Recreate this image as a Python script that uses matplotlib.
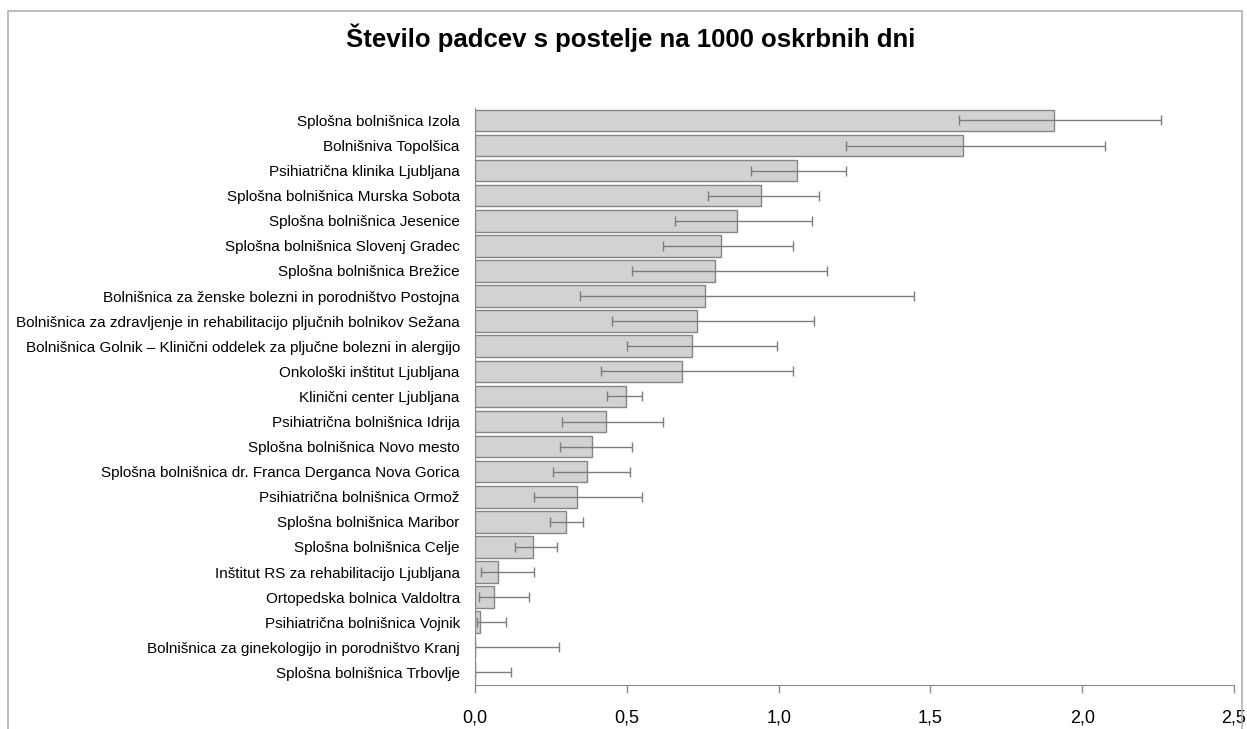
import numpy as np
import matplotlib
matplotlib.use('Agg')
import matplotlib.pyplot as plt
from matplotlib.patches import Rectangle
from matplotlib.ticker import FuncFormatter

# hospitals, top to bottom as in the chart
hospitals = [
    'Splošna bolnišnica Izola',
    'Bolnišniva Topolšica',
    'Psihiatrična klinika Ljubljana',
    'Splošna bolnišnica Murska Sobota',
    'Splošna bolnišnica Jesenice',
    'Splošna bolnišnica Slovenj Gradec',
    'Splošna bolnišnica Brežice',
    'Bolnišnica za ženske bolezni in porodništvo Postojna',
    'Bolnišnica za zdravljenje in rehabilitacijo pljučnih bolnikov Sežana',
    'Bolnišnica Golnik – Klinični oddelek za pljučne bolezni in alergijo',
    'Onkološki inštitut Ljubljana',
    'Klinični center Ljubljana',
    'Psihiatrična bolnišnica Idrija',
    'Splošna bolnišnica Novo mesto',
    'Splošna bolnišnica dr. Franca Derganca Nova Gorica',
    'Psihiatrična bolnišnica Ormož',
    'Splošna bolnišnica Maribor',
    'Splošna bolnišnica Celje',
    'Inštitut RS za rehabilitacijo Ljubljana',
    'Ortopedska bolnica Valdoltra',
    'Psihiatrična bolnišnica Vojnik',
    'Bolnišnica za ginekologijo in porodništvo Kranj',
    'Splošna bolnišnica Trbovlje',
]

# falls per 1000 bed days
rate = [1.908, 1.607, 1.060, 0.941, 0.864, 0.811, 0.791, 0.758, 0.732, 0.715,
        0.680, 0.496, 0.431, 0.385, 0.368, 0.337, 0.300, 0.191, 0.076, 0.063,
        0.017, 0.0, 0.0]
# confidence interval bounds
ci_low = [1.594, 1.223, 0.909, 0.768, 0.660, 0.620, 0.518, 0.347, 0.451, 0.501,
          0.416, 0.436, 0.287, 0.280, 0.257, 0.194, 0.247, 0.131, 0.020, 0.012,
          0.005, 0.0, 0.0]
ci_high = [2.260, 2.074, 1.223, 1.133, 1.111, 1.047, 1.158, 1.445, 1.116, 0.994,
           1.047, 0.551, 0.620, 0.518, 0.511, 0.549, 0.357, 0.269, 0.194, 0.179,
           0.103, 0.275, 0.118]

xticks = [0.0, 0.5, 1.0, 1.5, 2.0, 2.5]

label_font = ['Liberation Sans Narrow', 'Liberation Sans', 'DejaVu Sans']

rate = np.array(rate)
err = [rate - np.array(ci_low), np.array(ci_high) - rate]
ypos = np.arange(len(hospitals))

fig = plt.figure(figsize=(12.47, 7.29), dpi=100)
ax = fig.add_axes([0.381, 0.0604, 0.6086, 0.7916])

ax.barh(ypos, rate, height=0.86, color='#d2d2d2', edgecolor='#858585', linewidth=1.0)
# caps are drawn 2*capsize long
ax.errorbar(rate, ypos, xerr=err, fmt='none', ecolor='#7d7d7d', elinewidth=1.0,
            capsize=3.8, capthick=1.0)

ax.set_ylim(len(hospitals) - 0.5, -0.5)
ax.set_xlim(0, 2.5)
ax.set_yticks(ypos)
ax.set_yticklabels(hospitals, fontsize=11, family=label_font)
ax.tick_params(axis='y', length=0, pad=11)

ax.set_xticks(xticks)
ax.xaxis.set_major_formatter(FuncFormatter(lambda v, p: '{:.1f}'.format(v).replace('.', ',')))
ax.tick_params(axis='x', direction='out', length=6, color='#8a8a8a', width=1.0,
               labelsize=13, pad=12)
for lab in ax.get_xticklabels():
    lab.set_family(label_font)

for s in ['top', 'right']:
    ax.spines[s].set_visible(False)
ax.spines['bottom'].set_color('#8a8a8a')
ax.spines['left'].set_color('#8a8a8a')

fig.text(0.506, 0.948, 'Število padcev s postelje na 1000 oskrbnih dni',
         ha='center', va='center', fontsize=18.5, fontweight='bold', family=label_font)

# outer frame round the chart
fig.patches.append(Rectangle((8 / 1247, -0.05), (1242 - 8) / 1247, 1.05 - 11 / 729,
                             transform=fig.transFigure, fill=False,
                             edgecolor='#b0b0b0', linewidth=1.2))

fig.savefig('out.png', dpi=100)
